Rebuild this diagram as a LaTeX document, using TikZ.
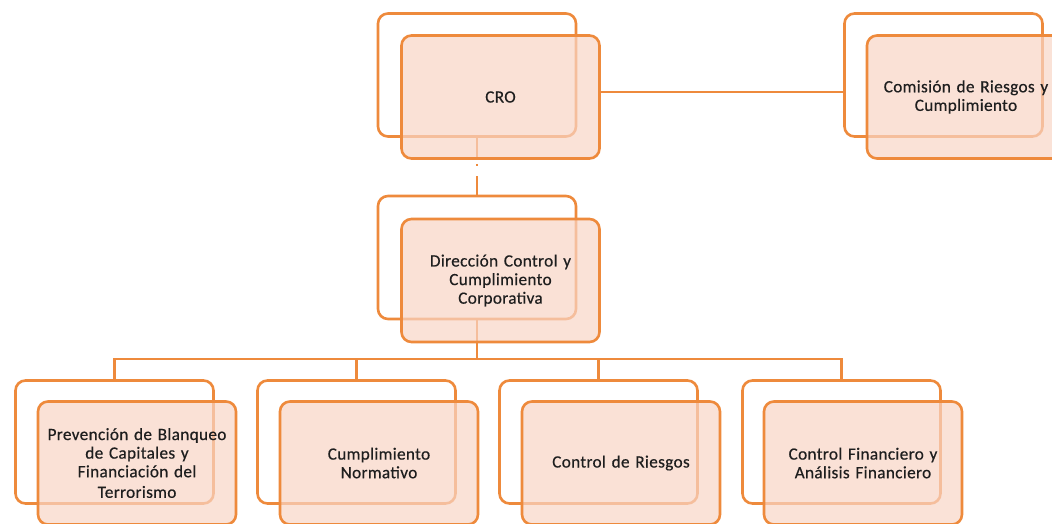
\documentclass[tikz,border=0pt]{standalone}
\usepackage{fontspec}
\setmainfont{Carlito}[FakeBold=0.5,WordSpace=0.7,LetterSpace=2]
\definecolor{orng}{HTML}{EE8A3C}
\definecolor{pinkf}{HTML}{F8D5C6}
\definecolor{txt}{HTML}{1E1E1E}
\begin{document}
\begin{tikzpicture}[x=1pt,y=-1pt,
  backbox/.style={draw=orng,line width=2.6pt,fill=white,rounded corners=10pt,
    minimum width=198pt,minimum height=123pt,inner sep=0pt},
  frontbox/.style={draw=orng,line width=2.6pt,fill=pinkf,fill opacity=0.7,text opacity=1,
    rounded corners=10pt,minimum width=198pt,minimum height=123pt,inner sep=3pt,
    text width=192pt,align=center,text=txt,font=\fontsize{17.2}{18.6}\selectfont},
  conn/.style={draw=orng,line width=2.4pt},
  thinconn/.style={draw=orng,line width=1.5pt}]
\useasboundingbox (0,0) rectangle (1052,523);
\clip (0,0) rectangle (1052,523);
% back boxes
\node[backbox] (croB) at (477,75) {};
\node[backbox] (comB) at (943.5,75) {};
\node[backbox] (dirB) at (477,257.5) {};
\node[backbox] (b1B) at (114.5,442) {};
\node[backbox] (b2B) at (356.5,442) {};
\node[backbox] (b3B) at (598.5,442) {};
\node[backbox] (b4B) at (841.5,442) {};
\coordinate (bus) at (477,359);
% connectors
\draw[thinconn] (croB.east |- 0,92) ++(23,0) coordinate (cs) -- (cs -| comB.west);
\draw[conn,dash pattern=on 22pt off 4pt on 2.5pt off 10pt on 20pt] (croB.south) -- (dirB.north);
\draw[conn] (dirB.south) -- (bus);
\draw[conn] (b1B.north) -- (b1B.north |- bus) -- (b4B.north |- bus) -- (b4B.north);
\draw[conn] (b2B.north |- bus) -- (b2B.north);
\draw[conn] (b3B.north |- bus) -- (b3B.north);
% front boxes
\node[frontbox] (croF) at (500.5,97) {CRO};
\node[frontbox] (comF) at (966,97) {Comisión de Riesgos y\\ Cumplimiento};
\node[frontbox] (dirF) at (500.5,280.5) {Dirección Control y\\ Cumplimiento\\ Corporativa};
\node[frontbox] (b1F) at (137,463) {Prevención de Blanqueo\\ de Capitales y\\ Financiación del\\[2pt] Terrorismo};
\node[frontbox] (b2F) at (379,463) {Cumplimiento\\ Normativo};
\node[frontbox] (b3F) at (621,463) {Control de Riesgos};
\node[frontbox] (b4F) at (863,463) {Control Financiero y\\ Análisis Financiero};
\end{tikzpicture}
\end{document}
